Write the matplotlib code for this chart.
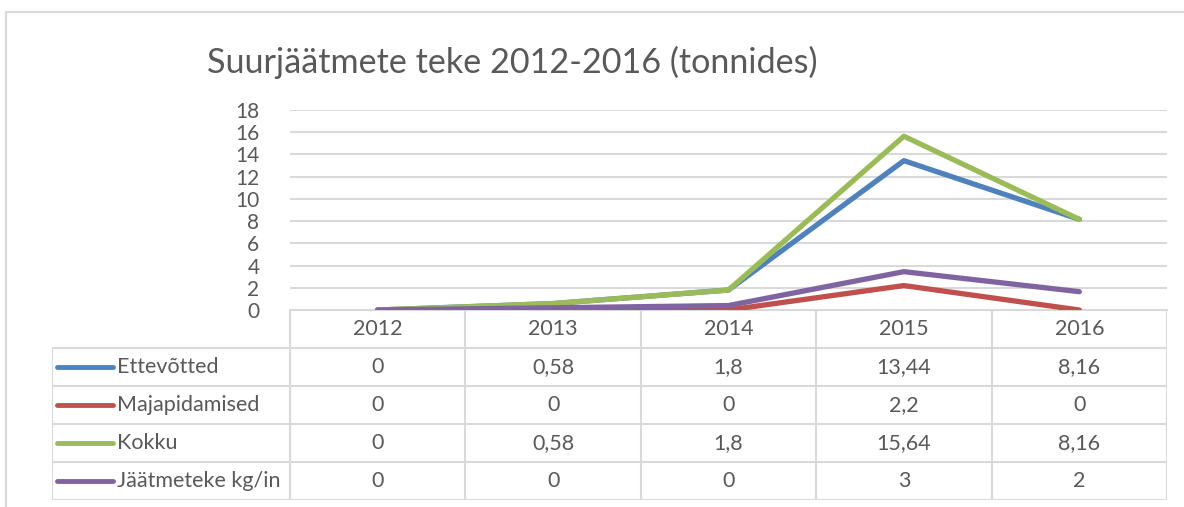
import matplotlib.pyplot as plt
from matplotlib.lines import Line2D
from matplotlib.patches import Rectangle

plt.rcParams['font.family'] = ['Lato', 'DejaVu Sans']

years = ['2012', '2013', '2014', '2015', '2016']
ettevotted = [0, 0.58, 1.8, 13.44, 8.16]
majapidamised = [0, 0, 0, 2.2, 0]
kokku = [0, 0.58, 1.8, 15.64, 8.16]
jaatmeteke = [0, 0.2, 0.4, 3.45, 1.65]

series_names = ['Ettevõtted', 'Majapidamised', 'Kokku', 'Jäätmeteke kg/in']
series_vals = [ettevotted, majapidamised, kokku, jaatmeteke]
series_decimals = [None, None, None, 0]
colors = ['#4F81BD', '#C0504D', '#9BBB59', '#8064A2']

yticks = [0, 2, 4, 6, 8, 10, 12, 14, 16, 18]

W, H = 1184, 507
text_col = '#595959'
grid_col = '#D9D9D9'

fig = plt.figure(figsize=(W / 100, H / 100), dpi=100)

# outer chart frame
fig.patches.append(Rectangle((6 / W, -0.1), 1.2, (H - 12) / H + 0.1,
                             transform=fig.transFigure, fill=False,
                             edgecolor=grid_col, lw=1.5))

fig.text(207 / W, 1 - 62 / H, 'Suurjäätmete teke 2012-2016 (tonnides)',
         fontsize=24.6, color=text_col, ha='left', va='center')

# plot area
px_l, px_r, px_t, px_b = 290, 1167, 110, 310
ax = fig.add_axes([px_l / W, 1 - px_b / H, (px_r - px_l) / W, (px_b - px_t) / H])
x = list(range(len(years)))
for vals, c in zip(series_vals, colors):
    ax.plot(x, vals, color=c, lw=3.8, solid_joinstyle='round',
            solid_capstyle='round', zorder=3)
ax.set_xlim(-0.5, len(years) - 0.5)
ax.set_ylim(0, 18)
ax.set_yticks(yticks)
ax.set_yticklabels([str(t) for t in yticks])
ax.set_xticks([])
ax.tick_params(axis='y', length=0, pad=22, labelsize=15, labelcolor=text_col)
ax.grid(axis='y', color=grid_col, lw=1.5, zorder=0)
for s in ['left', 'right', 'top']:
    ax.spines[s].set_visible(False)
ax.spines['bottom'].set_color(grid_col)
ax.spines['bottom'].set_linewidth(1.5)
ax.spines['bottom'].set_zorder(1)
ax.patch.set_alpha(0)

# data table under the plot, columns aligned with categories
tb_l, tb_b = 52, 500
unit = (px_r - px_l) / len(years)
left_x = -0.5 - (px_l - tb_l) / unit
nrows = len(series_names) + 1
tax = fig.add_axes([tb_l / W, 1 - tb_b / H, (px_r - tb_l) / W, (tb_b - px_b) / H])
tax.set_xlim(left_x, len(years) - 0.5)
tax.set_ylim(nrows, 0)
tax.axis('off')

lk = dict(color=grid_col, lw=1.5, solid_capstyle='butt')
for r in range(1, nrows + 1):
    tax.plot([left_x, len(years) - 0.5], [r, r], **lk)
tax.plot([left_x, left_x], [1, nrows], **lk)
for i in range(len(years) + 1):
    tax.plot([i - 0.5, i - 0.5], [0, nrows], **lk)

for i, yr in enumerate(years):
    tax.text(i, 0.5, yr, ha='center', va='center', fontsize=15.5, color=text_col)


def fmt(v, dec):
    if dec is not None:
        v = round(v, dec)
        if dec == 0:
            return str(int(v))
    return f'{v:g}'.replace('.', ',')


for r, (name, vals, c, dec) in enumerate(zip(series_names, series_vals, colors,
                                             series_decimals), start=1):
    yc = r + 0.5
    x0 = left_x + 5 / unit
    x1 = left_x + 61 / unit
    tax.add_line(Line2D([x0, x1], [yc, yc], color=c, lw=3.5,
                        solid_capstyle='round'))
    tax.text(left_x + 65 / unit, yc, name, ha='left', va='center',
             fontsize=15.5, color=text_col)
    for i, v in enumerate(vals):
        tax.text(i, yc, fmt(v, dec), ha='center', va='center',
                 fontsize=15.5, color=text_col)

fig.savefig('out.png', dpi=100)
